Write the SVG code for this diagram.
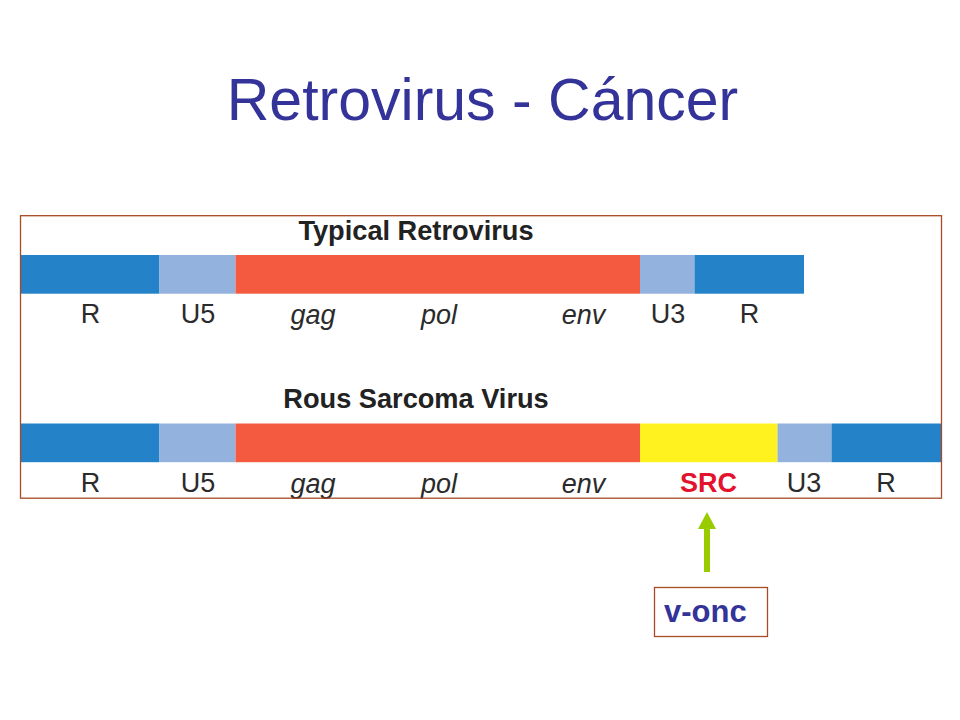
<svg xmlns="http://www.w3.org/2000/svg" width="960" height="720" viewBox="0 0 960 720">
<defs>
<style>
text{font-family:"Liberation Sans",Arial,sans-serif}
.t{fill:#333399;font-size:59px;text-anchor:middle}
.h{fill:#222;font-size:27.2px;font-weight:bold;text-anchor:middle}
.l{fill:#2b2b2b;font-size:27px;text-anchor:middle}
.i{font-style:italic}
.r{fill:#2382c8}.u{fill:#94b2de}.o{fill:#f45a40}.y{fill:#fff21f}
.f{fill:none;stroke:#a84a24;stroke-width:1.3}
</style>
<marker id="ah" markerUnits="userSpaceOnUse" markerWidth="18" markerHeight="18" refX="0" refY="9" orient="auto"><path d="M0 0L17 9L0 18Z" fill="#99cc00"/></marker>
</defs>
<rect width="960" height="720" fill="#fff"/>
<text id="title" class="t" x="482.500" y="120">Retrovirus - Cáncer</text>
<g id="typical-retrovirus">
<text class="h" x="416" y="240">Typical Retrovirus</text>
<rect class="r" x="20" y="255" width="139.500" height="38.700"/>
<rect class="u" x="159.500" y="255" width="76" height="38.700"/>
<rect class="o" x="235.500" y="255" width="404.500" height="38.700"/>
<rect class="u" x="640" y="255" width="54.500" height="38.700"/>
<rect class="r" x="694.500" y="255" width="109.500" height="38.700"/>
<text class="l" x="90.500" y="323">R</text>
<text class="l" x="198" y="323">U5</text>
<text class="l i" x="313" y="324">gag</text>
<text class="l i" x="439" y="324">pol</text>
<text class="l i" x="583.500" y="324">env</text>
<text class="l" x="668" y="323">U3</text>
<text class="l" x="749.500" y="323">R</text>
</g>
<g id="rous-sarcoma-virus">
<text class="h" x="416" y="408">Rous Sarcoma Virus</text>
<rect class="r" x="20" y="423.500" width="139.500" height="38.700"/>
<rect class="u" x="159.500" y="423.500" width="76" height="38.700"/>
<rect class="o" x="235.500" y="423.500" width="404.500" height="38.700"/>
<rect class="y" x="640" y="423.500" width="137.500" height="38.700"/>
<rect class="u" x="777.500" y="423.500" width="54" height="38.700"/>
<rect class="r" x="831.500" y="423.500" width="109.500" height="38.700"/>
<text class="l" x="90.500" y="492">R</text>
<text class="l" x="198" y="492">U5</text>
<text class="l i" x="313" y="493">gag</text>
<text class="l i" x="439" y="493">pol</text>
<text class="l i" x="583.500" y="493">env</text>
<text class="l" x="708.500" y="492" style="fill:#e3132e;font-weight:bold">SRC</text>
<text class="l" x="804" y="492">U3</text>
<text class="l" x="886" y="492">R</text>
</g>
<rect id="frame" class="f" x="20.500" y="215.700" width="921" height="282.500"/>
<g id="connectors">
<line x1="707" y1="572" x2="707" y2="529" stroke="#99cc00" stroke-width="6" marker-end="url(#ah)"/>
</g>
<g id="v-onc">
<rect class="f" x="654.500" y="587.500" width="113" height="49"/>
<text x="664" y="622" style="fill:#333399;font-size:31px;font-weight:bold">v-onc</text>
</g>
</svg>
